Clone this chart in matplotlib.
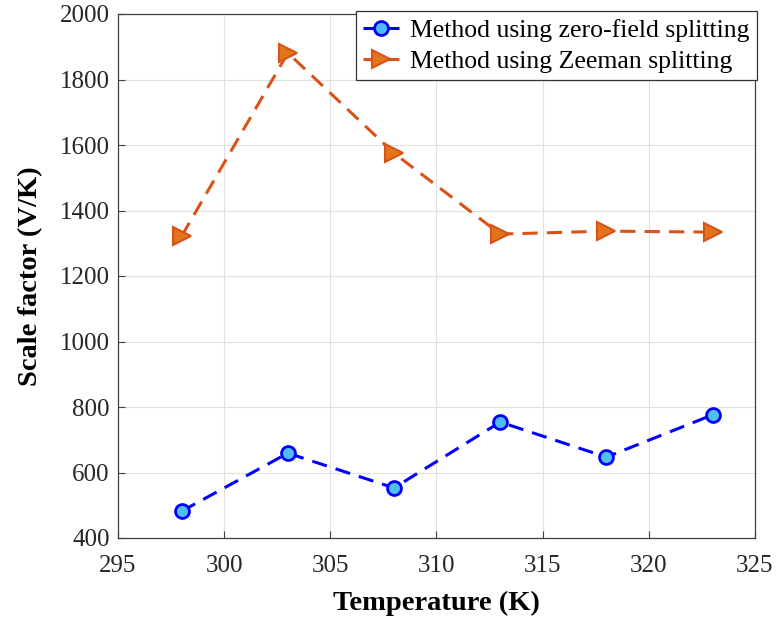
import matplotlib
matplotlib.use("Agg")
import matplotlib.pyplot as plt

# values
temps = [298, 303, 308, 313, 318, 323]
zero_field = [482, 659, 553, 754, 647, 776]
zeeman = [1322, 1881, 1575, 1328, 1337, 1334]

plt.rcParams['font.family'] = ['Liberation Serif', 'DejaVu Serif']

fig = plt.figure(figsize=(7.77, 6.19), dpi=100)
ax = fig.add_axes([118/777, 81/619, 637/777, 524/619])

ax.plot(temps, zero_field, '--o', color='#0000ff', lw=2.2, dashes=(5, 3),
        markersize=10, markerfacecolor='#4dbeee', markeredgecolor='#0000ff',
        markeredgewidth=2, label='Method using zero-field splitting')
ax.plot(temps, zeeman, '--', marker='>', color='#d95319', lw=2.2, dashes=(5, 3),
        markersize=13, markerfacecolor='#e2751c', markeredgecolor='#d95319',
        markeredgewidth=1.5, label='Method using Zeeman splitting')

ax.set_xlim(295, 325)
ax.set_ylim(400, 2000)
ax.set_xticks(range(295, 326, 5))
ax.set_yticks(range(400, 2001, 200))
ax.grid(True, color='#e0e0e0', lw=0.8)
ax.set_axisbelow(True)
ax.tick_params(direction='in', labelsize=18, length=5, color='#404040',
               labelcolor='#262626', top=False, right=False)
ax.tick_params(axis='x', pad=12)
ax.tick_params(axis='y', pad=6)
for s in ax.spines.values():
    s.set_color('#404040')
    s.set_linewidth(0.9)

ax.set_xlabel('Temperature (K)', fontsize=20.5, fontweight='bold', labelpad=10)
ax.set_ylabel('Scale factor (V/K)', fontsize=20.5, fontweight='bold', labelpad=12)

leg = ax.legend(loc='upper right', fontsize=18.5, frameon=True, fancybox=False,
                edgecolor='#333333', framealpha=1, borderpad=0.3,
                labelspacing=0.3, handlelength=1.4, handletextpad=0.4,
                borderaxespad=0.0, bbox_to_anchor=(1.003, 1.005))
leg.get_frame().set_linewidth(0.9)

fig.savefig('out.png', dpi=100)
